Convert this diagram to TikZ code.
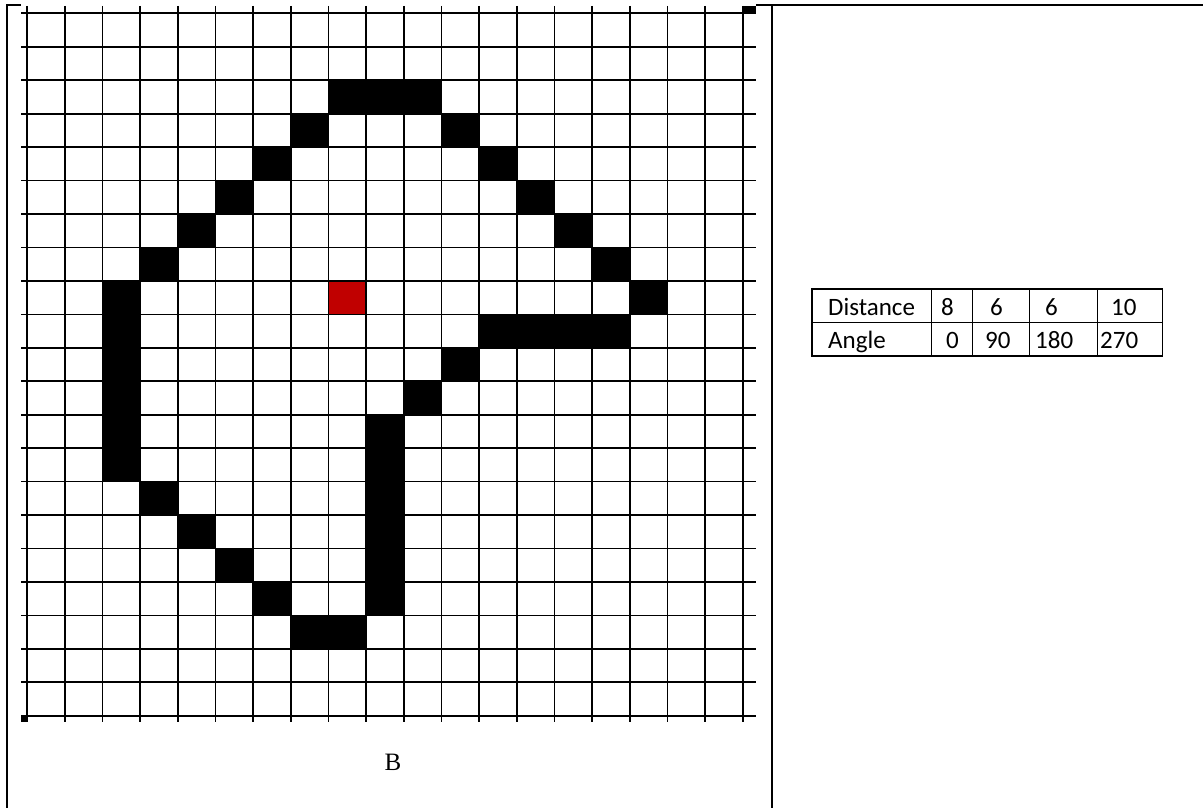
\documentclass[tikz,border=0pt]{standalone}
\usepackage{fontspec}
\setmainfont{Liberation Serif}
\newfontfamily\tabfont{Carlito}
\definecolor{cellred}{RGB}{192,0,0}
\begin{document}
\begin{tikzpicture}[x=1pt,y=-1pt,
  gridline/.style={line width=1.7pt,black},
  border/.style={line width=2pt,black},
  tabline/.style={line width=1.2pt,black},
  tabtext/.style={font=\tabfont\fontsize{25}{28}\selectfont,anchor=base west,inner sep=0pt},
  blackcell/.style={fill=black},
  redcell/.style={fill=cellred}]
\useasboundingbox (0,0) rectangle (1203,808);
\fill[white] (0,0) rectangle (1203,808);
% outer table borders
\draw[border] (7,808) -- (7,5.5) -- (21,5.5);
\draw[border] (756,5.5) -- (1203,5.5);
\draw[border] (772,5.5) -- (772,808);
% grid geometry
\def\xo{27.3}\def\dx{37.65}
\def\yo{13.3}\def\dy{33.45}
% black cells
\foreach \c/\r in {8/2,9/2,10/2,7/3,6/4,5/5,4/6,3/7,
  2/8,2/9,2/10,2/11,2/12,2/13,3/14,4/15,5/16,6/17,7/18,8/18,
  9/12,9/13,9/14,9/15,9/16,9/17,10/11,11/10,12/9,13/9,14/9,15/9,16/8,
  11/3,12/4,13/5,14/6,15/7}
  \fill[blackcell] ({\xo+\c*\dx},{\yo+\r*\dy}) rectangle ++(\dx,\dy);
\fill[redcell] ({\xo+8*\dx},{\yo+8*\dy}) rectangle ++(\dx,\dy);
% grid lines
\foreach \k in {0,...,19}
  \draw[gridline] ({\xo+\k*\dx},6) -- ({\xo+\k*\dx},722);
\foreach \r in {0,...,21}
  \draw[gridline] (21,{\yo+\r*\dy}) -- (756,{\yo+\r*\dy});
\fill[black] (743,6) rectangle (756,13.3);
\fill[black] (21,715.7) rectangle (28,722);
% label
\node[font=\fontsize{25}{28}\selectfont,anchor=base] (lblB) at (393,770) {B};
% table
\draw[tabline] (812,289) rectangle (1162.7,356);
\draw[tabline] (812,322.3) -- (1162.7,322.3);
\foreach \x in {931.7,972.7,1029.3,1097.3}
  \draw[tabline] (\x,289) -- (\x,356);
\node[tabtext] (tD) at (828,315) {Distance};
\node[tabtext] (t8) at (941,315) {8};
\node[tabtext] (t6a) at (990,315) {6};
\node[tabtext] (t6b) at (1045,315) {6};
\node[tabtext] (t10) at (1111,315) {10};
\node[tabtext] (tA) at (828,348) {Angle};
\node[tabtext] (t0) at (946,348) {0};
\node[tabtext] (t90) at (985,348) {90};
\node[tabtext] (t180) at (1035,348) {180};
\node[tabtext] (t270) at (1100,348) {270};
\end{tikzpicture}
\end{document}
